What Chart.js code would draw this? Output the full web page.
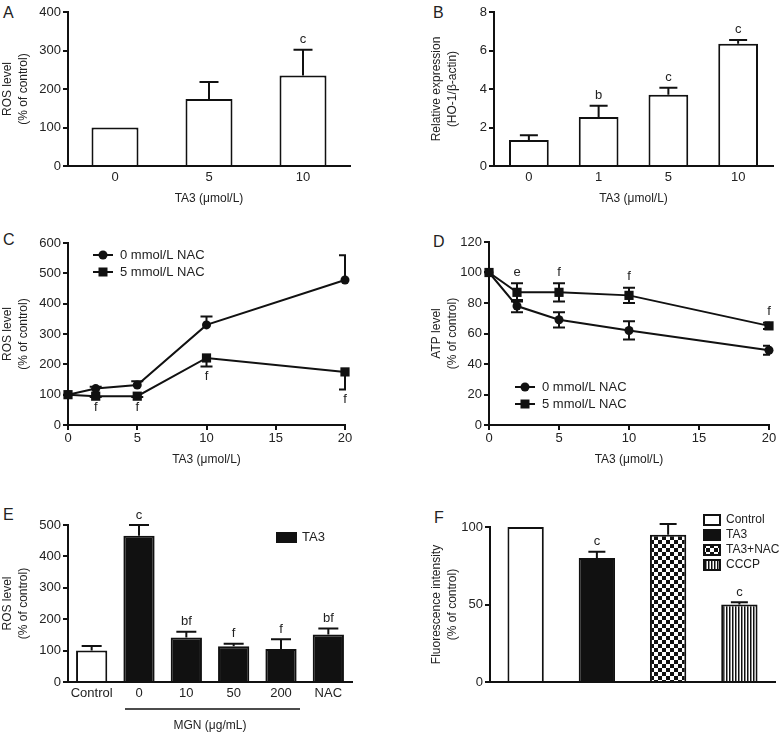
<!DOCTYPE html>
<html>
<head>
<meta charset="utf-8">
<script src="https://cdn.jsdelivr.net/npm/chart.js@4.4.1/dist/chart.umd.min.js"></script>
<style>
  body { margin: 0; background: #fff; width: 781px; height: 734px; position: relative; overflow: hidden; font-family: "Liberation Sans", Arial, sans-serif; }
  canvas { position: absolute; }
  .tag { position: absolute; font-size: 16px; line-height: 16px; color: #222; }
</style>
</head>
<body>
<div class="tag" style="left:3px;top:5px">A</div>
<div class="tag" style="left:433px;top:5px">B</div>
<div class="tag" style="left:3px;top:232px">C</div>
<div class="tag" style="left:433px;top:234px">D</div>
<div class="tag" style="left:3px;top:507px">E</div>
<div class="tag" style="left:434px;top:510px">F</div>

<canvas id="chartA" width="390" height="230" style="left:0;top:0"></canvas>
<canvas id="chartB" width="391" height="230" style="left:390px;top:0"></canvas>
<canvas id="chartC" width="390" height="250" style="left:0;top:230px"></canvas>
<canvas id="chartD" width="391" height="250" style="left:390px;top:230px"></canvas>
<canvas id="chartE" width="390" height="254" style="left:0;top:480px"></canvas>
<canvas id="chartF" width="391" height="254" style="left:390px;top:480px"></canvas>

<script>
// panel A - ROS level vs TA3
var aLabels = ['0', '5', '10'];
var aValues = [100, 174, 235];
var aErrors = [0, 44, 67];
var aLetters = ['', '', 'c'];

// panel B - HO-1 relative expression
var bLabels = ['0', '1', '5', '10'];
var bValues = [1.35, 2.55, 3.7, 6.35];
var bErrors = [0.25, 0.58, 0.36, 0.2];
var bLetters = ['', 'b', 'c', 'c'];

// panel C - ROS level with / without NAC
var cDoses = [0, 2, 5, 10, 20];
var cNac0 = [100, 120, 132, 330, 478];
var cNac0Err = [0, 6, 12, 28, 82];
var cNac5 = [100, 95, 95, 221, 175];
var cNac5Err = [0, 3, 3, 28, 58];
var cLetters = ['', 'f', 'f', 'f', 'f'];

// panel D - ATP level with / without NAC
var dDoses = [0, 2, 5, 10, 20];
var dNac0 = [100, 78, 69, 62, 49];
var dNac0Err = [0, 4, 5, 6, 3];
var dNac5 = [100, 87, 87, 85, 65];
var dNac5Err = [0, 6, 6, 5, 2];
var dLetters = ['', 'e', 'f', 'f', 'f'];

// panel E - ROS level with MGN
var eLabels = ['Control', '0', '10', '50', '200', 'NAC'];
var eValues = [100, 466, 142, 114, 105, 151];
var eErrors = [15, 34, 18, 8, 31, 19];
var eLetters = ['', 'c', 'bf', 'f', 'f', 'bf'];

// panel F - fluorescence intensity
var fLabels = ['Control', 'TA3', 'TA3+NAC', 'CCCP'];
var fValues = [100, 80, 95, 50];
var fErrors = [0, 4, 7, 1.5];
var fLetters = ['', 'c', '', 'c'];

var INK = '#111';
var FONT = '"Liberation Sans", Arial, sans-serif';

Chart.defaults.font.family = FONT;
Chart.defaults.font.size = 13;
Chart.defaults.color = '#222';
Chart.defaults.animation = false;
Chart.defaults.responsive = false;
Chart.defaults.devicePixelRatio = 1;
Chart.defaults.plugins.legend.display = false;
Chart.defaults.plugins.tooltip.enabled = false;

//error bars and significance letters, read from dataset fields
function drawErrors(chart) {
  var ctx = chart.ctx;
  var area = chart.chartArea;
  var yScale = chart.scales.y;
  chart.data.datasets.forEach(function (ds, di) {
    if (!ds.errors) return;
    var meta = chart.getDatasetMeta(di);
    ctx.save();
    ctx.beginPath();
    ctx.rect(0, 0, area.right + 1, chart.height);
    ctx.clip();
    ctx.strokeStyle = INK;
    ctx.lineWidth = 2;
    meta.data.forEach(function (el, i) {
      var e = ds.errors[i];
      if (!e) return;
      var v = (typeof ds.data[i] === 'object') ? ds.data[i].y : ds.data[i];
      var hi = yScale.getPixelForValue(v + e);
      var lo = yScale.getPixelForValue(v - e);
      var mid = yScale.getPixelForValue(v);
      var cw = ds.capWidth / 2;
      ctx.beginPath();
      ctx.moveTo(el.x, ds.errDir === 'down' ? mid : hi);
      ctx.lineTo(el.x, ds.errDir === 'up' ? mid : lo);
      if (ds.errDir !== 'down') { ctx.moveTo(el.x - cw, hi); ctx.lineTo(el.x + cw, hi); }
      if (ds.errDir !== 'up') { ctx.moveTo(el.x - cw, lo); ctx.lineTo(el.x + cw, lo); }
      ctx.stroke();
    });
    ctx.restore();
  });
}

function drawLetters(chart) {
  var ctx = chart.ctx;
  var yScale = chart.scales.y;
  chart.data.datasets.forEach(function (ds, di) {
    if (!ds.letters) return;
    var meta = chart.getDatasetMeta(di);
    ctx.save();
    ctx.fillStyle = '#222';
    ctx.font = '13px ' + FONT;
    ctx.textAlign = 'center';
    ctx.textBaseline = 'middle';
    meta.data.forEach(function (el, i) {
      if (!ds.letters[i]) return;
      var v = (typeof ds.data[i] === 'object') ? ds.data[i].y : ds.data[i];
      var e = ds.errors ? ds.errors[i] : 0;
      var y;
      if (ds.letterDir === 'down') {
        y = yScale.getPixelForValue(v - e) + ds.letterGap;
      } else {
        y = yScale.getPixelForValue(v + e) - ds.letterGap;
      }
      ctx.fillText(ds.letters[i], el.x, y);
    });
    ctx.restore();
  });
}

var markPlugin = {
  id: 'marks',
  beforeDatasetsDraw: function (chart) {
    if (chart.config.type === 'line') drawErrors(chart);
  },
  afterDatasetsDraw: function (chart) {
    if (chart.config.type !== 'line') drawErrors(chart);
    drawLetters(chart);
  }
};
Chart.register(markPlugin);

//small marker used by the line legends
function drawMarker(ctx, style, x, y) {
  ctx.fillStyle = INK;
  if (style === 'rect') {
    ctx.fillRect(x - 4.5, y - 4.5, 9, 9);
  } else {
    ctx.beginPath();
    ctx.arc(x, y, 4.5, 0, Math.PI * 2);
    ctx.fill();
  }
}

function lineLegend(x, y, items) {
  return {
    id: 'lineLegend',
    afterDraw: function (chart) {
      var ctx = chart.ctx;
      ctx.save();
      ctx.font = '13px ' + FONT;
      ctx.textBaseline = 'middle';
      items.forEach(function (it, i) {
        var yy = y + i * 17;
        ctx.strokeStyle = INK;
        ctx.lineWidth = 2;
        ctx.beginPath();
        ctx.moveTo(x - 10, yy);
        ctx.lineTo(x + 10, yy);
        ctx.stroke();
        drawMarker(ctx, it.style, x, yy);
        ctx.fillStyle = '#222';
        ctx.fillText(it.text, x + 17, yy);
      });
      ctx.restore();
    }
  };
}

function boxLegend(x, y, w, h, gap, size, items) {
  return {
    id: 'boxLegend',
    afterDraw: function (chart) {
      var ctx = chart.ctx;
      ctx.save();
      ctx.font = size + 'px ' + FONT;
      ctx.textBaseline = 'middle';
      items.forEach(function (it, i) {
        var yy = y + i * gap;
        ctx.fillStyle = it.fill;
        ctx.fillRect(x, yy - h / 2, w, h);
        ctx.strokeStyle = INK;
        ctx.lineWidth = 2;
        ctx.strokeRect(x + 1, yy - h / 2 + 1, w - 2, h - 2);
        ctx.fillStyle = '#222';
        ctx.fillText(it.text, x + w + 5, yy);
      });
      ctx.restore();
    }
  };
}

//patterns for panel F
function checkerPattern() {
  var c = document.createElement('canvas');
  c.width = 8; c.height = 8;
  var g = c.getContext('2d');
  g.fillStyle = '#fff'; g.fillRect(0, 0, 8, 8);
  g.fillStyle = INK; g.fillRect(0, 0, 4, 4); g.fillRect(4, 4, 4, 4);
  return g.createPattern(c, 'repeat');
}
function stripePattern() {
  var c = document.createElement('canvas');
  c.width = 3; c.height = 4;
  var g = c.getContext('2d');
  g.fillStyle = '#fff'; g.fillRect(0, 0, 3, 4);
  g.fillStyle = INK; g.fillRect(0, 0, 1.5, 4);
  return g.createPattern(c, 'repeat');
}

//axis builders
function yAxis(max, step, width, title, titleTop) {
  return {
    min: 0,
    max: max,
    ticks: { stepSize: step, padding: 2, font: { size: 13 } },
    grid: { drawOnChartArea: false, tickLength: 5, lineWidth: 2, color: INK },
    border: { color: INK, width: 2 },
    title: { display: true, text: title, color: '#222', font: { size: 12, lineHeight: 1.3 }, padding: { top: titleTop, bottom: 0 } },
    afterFit: function (s) { s.width = width; }
  };
}

function catAxis(height, tickPad, title, titleBottom, showTicks) {
  return {
    ticks: { display: showTicks, padding: tickPad, font: { size: 13 }, maxRotation: 0, autoSkip: false },
    grid: { drawOnChartArea: false, drawTicks: false, color: INK },
    border: { color: INK, width: 2 },
    title: { display: !!title, text: title, color: '#222', font: { size: 12 }, padding: { top: 0, bottom: titleBottom } },
    afterFit: function (s) { s.height = height; }
  };
}

function doseAxis(height, title) {
  return {
    type: 'linear',
    min: 0,
    max: 20,
    ticks: { stepSize: 5, padding: 1, font: { size: 13 } },
    grid: { drawOnChartArea: false, tickLength: 5, lineWidth: 2, color: INK },
    border: { color: INK, width: 2 },
    title: { display: true, text: title, color: '#222', font: { size: 12 }, padding: { top: 0, bottom: 12.8 } },
    afterFit: function (s) { s.height = height; }
  };
}

function points(xs, ys) {
  return xs.map(function (x, i) { return { x: x, y: ys[i] }; });
}

//-------------
//- A -
//-------------
new Chart(document.getElementById('chartA'), {
  type: 'bar',
  data: {
    labels: aLabels,
    datasets: [{
      data: aValues,
      backgroundColor: '#fff',
      borderColor: INK,
      borderWidth: 2,
      borderSkipped: 'start',
      barPercentage: 0.5,
      categoryPercentage: 1,
      errors: aErrors, errDir: 'up', capWidth: 19,
      letters: aLetters, letterDir: 'up', letterGap: 10
    }]
  },
  options: {
    layout: { padding: { left: 0, top: 12, right: 40, bottom: 0 } },
    scales: {
      x: catAxis(64, 4, 'TA3 (μmol/L)', 23.8, true),
      y: yAxis(400, 100, 68, ['ROS level', '(% of control)'], 0)
    }
  }
});

//-------------
//- B -
//-------------
new Chart(document.getElementById('chartB'), {
  type: 'bar',
  data: {
    labels: bLabels,
    datasets: [{
      data: bValues,
      backgroundColor: '#fff',
      borderColor: INK,
      borderWidth: 2,
      borderSkipped: 'start',
      barPercentage: 0.57,
      categoryPercentage: 1,
      errors: bErrors, errDir: 'up', capWidth: 18,
      letters: bLetters, letterDir: 'up', letterGap: 10
    }]
  },
  options: {
    layout: { padding: { left: 0, top: 12, right: 8, bottom: 0 } },
    scales: {
      x: catAxis(64, 4, 'TA3 (μmol/L)', 23.8, true),
      y: yAxis(8, 2, 104, ['Relative expression', '(HO-1/β-actin)'], 39)
    }
  }
});

//-------------
//- C -
//-------------
new Chart(document.getElementById('chartC'), {
  type: 'line',
  data: {
    datasets: [{
      label: '0 mmol/L NAC',
      data: points(cDoses, cNac0),
      borderColor: INK, borderWidth: 2, tension: 0,
      pointStyle: 'circle', pointRadius: 4.5, pointBackgroundColor: INK, pointBorderWidth: 0,
      clip: false, order: 2,
      errors: cNac0Err, errDir: 'up', capWidth: 12
    }, {
      label: '5 mmol/L NAC',
      data: points(cDoses, cNac5),
      borderColor: INK, borderWidth: 2, tension: 0,
      pointStyle: 'rect', pointRadius: 6.5, pointBackgroundColor: INK, pointBorderWidth: 0,
      clip: false, order: 1,
      errors: cNac5Err, errDir: 'down', capWidth: 12,
      letters: cLetters, letterDir: 'down', letterGap: 10
    }]
  },
  options: {
    layout: { padding: { left: 0, top: 13, right: 45, bottom: 0 } },
    scales: {
      x: doseAxis(55, 'TA3 (μmol/L)'),
      y: yAxis(600, 100, 68, ['ROS level', '(% of control)'], 0)
    }
  },
  plugins: [lineLegend(103, 25, [{ text: '0 mmol/L NAC', style: 'circle' }, { text: '5 mmol/L NAC', style: 'rect' }])]
});

//-------------
//- D -
//-------------
new Chart(document.getElementById('chartD'), {
  type: 'line',
  data: {
    datasets: [{
      label: '0 mmol/L NAC',
      data: points(dDoses, dNac0),
      borderColor: INK, borderWidth: 2, tension: 0,
      pointStyle: 'circle', pointRadius: 4.5, pointBackgroundColor: INK, pointBorderWidth: 0,
      clip: false, order: 2,
      errors: dNac0Err, errDir: 'both', capWidth: 12
    }, {
      label: '5 mmol/L NAC',
      data: points(dDoses, dNac5),
      borderColor: INK, borderWidth: 2, tension: 0,
      pointStyle: 'rect', pointRadius: 6.5, pointBackgroundColor: INK, pointBorderWidth: 0,
      clip: false, order: 1,
      errors: dNac5Err, errDir: 'both', capWidth: 12,
      letters: dLetters, letterDir: 'up', letterGap: 11
    }]
  },
  options: {
    layout: { padding: { left: 0, top: 12, right: 12, bottom: 0 } },
    scales: {
      x: doseAxis(55, 'TA3 (μmol/L)'),
      y: yAxis(120, 20, 99, ['ATP level', '(% of control)'], 39)
    }
  },
  plugins: [lineLegend(135, 157, [{ text: '0 mmol/L NAC', style: 'circle' }, { text: '5 mmol/L NAC', style: 'rect' }])]
});

//-------------
//- E -
//-------------
var underline = {
  id: 'underline',
  afterDraw: function (chart) {
    var x = chart.scales.x;
    var ctx = chart.ctx;
    ctx.save();
    ctx.strokeStyle = INK;
    ctx.lineWidth = 1.5;
    ctx.beginPath();
    ctx.moveTo(x.getPixelForValue(1) - 14, 229);
    ctx.lineTo(x.getPixelForValue(4) + 19, 229);
    ctx.stroke();
    ctx.restore();
  }
};

new Chart(document.getElementById('chartE'), {
  type: 'bar',
  data: {
    labels: eLabels,
    datasets: [{
      data: eValues,
      backgroundColor: ['#fff', INK, INK, INK, INK, INK],
      borderColor: INK,
      borderWidth: 2,
      borderSkipped: 'start',
      barPercentage: 0.66,
      categoryPercentage: 1,
      errors: eErrors, errDir: 'up', capWidth: 20,
      letters: eLetters, letterDir: 'up', letterGap: 10
    }]
  },
  options: {
    layout: { padding: { left: 0, top: 45, right: 38, bottom: 0 } },
    scales: {
      x: catAxis(52, 4, 'MGN (μg/mL)', 0.8, true),
      y: yAxis(500, 100, 68, ['ROS level', '(% of control)'], 0)
    }
  },
  plugins: [underline, boxLegend(276, 57.5, 21, 11, 15, 13, [{ text: 'TA3', fill: INK }])]
});

//-------------
//- F -
//-------------
var checker = checkerPattern();
var stripes = stripePattern();

new Chart(document.getElementById('chartF'), {
  type: 'bar',
  data: {
    labels: fLabels,
    datasets: [{
      data: fValues,
      backgroundColor: ['#fff', INK, checker, stripes],
      borderColor: INK,
      borderWidth: 2,
      borderSkipped: 'start',
      barPercentage: 0.51,
      categoryPercentage: 1,
      errors: fErrors, errDir: 'up', capWidth: 17,
      letters: fLetters, letterDir: 'up', letterGap: 10
    }]
  },
  options: {
    layout: { padding: { left: 0, top: 47, right: 6, bottom: 0 } },
    scales: {
      x: catAxis(52, 4, '', 0, false),
      y: yAxis(100, 50, 100, ['Fluorescence intensity', '(% of control)'], 39)
    }
  },
  plugins: [boxLegend(313, 40, 18, 12, 15, 12, [
    { text: fLabels[0], fill: '#fff' },
    { text: fLabels[1], fill: INK },
    { text: fLabels[2], fill: checker },
    { text: fLabels[3], fill: stripes }
  ])]
});
</script>
</body>
</html>
